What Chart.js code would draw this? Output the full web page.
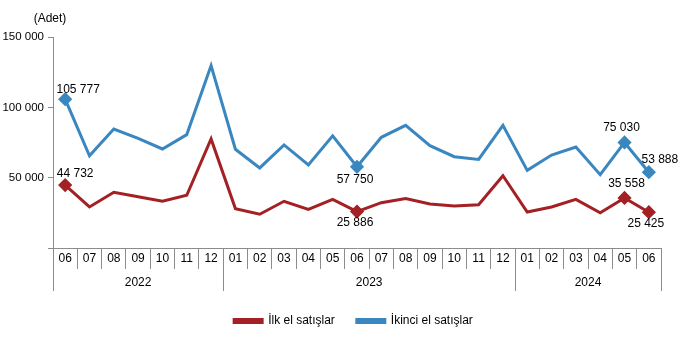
<!DOCTYPE html>
<html>
<head>
<meta charset="utf-8">
<script src="https://cdn.jsdelivr.net/npm/chart.js@4"></script>
<style>
  html, body { margin: 0; padding: 0; background: #fff; }
  #wrap { width: 681px; height: 364px; }
</style>
</head>
<body>
<div id="wrap"><canvas id="sales-chart"></canvas></div>
<script>
// Monthly house sales (Adet), 2022-06 .. 2024-06
const months = ['06','07','08','09','10','11','12',
  '01','02','03','04','05','06','07','08','09','10','11','12',
  '01','02','03','04','05','06'];
const yearLabels = ['2022', '2023', '2024'];
const yearSpans = [7, 12, 6];

const firstSales = [44732, 29200, 39600, 36500, 33200, 37500, 77500,
  28000, 24000, 33200, 27500, 34600, 25886, 32200, 35100, 31300, 29900, 30800, 51400,
  25600, 29200, 34600, 25100, 35558, 25425];
const secondSales = [105777, 65500, 84600, 78000, 70400, 80600, 129700,
  70200, 56900, 73300, 59000, 79700, 57750, 78700, 87200, 72800, 64900, 63000, 87200,
  55200, 66100, 71800, 52100, 75030, 53888];

const yTicks = [50000, 100000, 150000];
const markedPoints = [0, 12, 23, 24];

const fmt = v => String(v).replace(/\B(?=(\d{3})+(?!\d))/g, ' ');

const RED = '#a32024';
const BLUE = '#3a87c0';
const FONT = 'Liberation Sans, Arial, sans-serif';

// label offsets per dataset / marked point (dx, dy from the point)
const labelOffsets = [
  { 0: [10, -11], 12: [-2, 11], 23: [2, -14], 24: [-3, 11] },
  { 0: [13, -10], 12: [-2, 13], 23: [-3, -15], 24: [11, -13] }
];

const extrasPlugin = {
  id: 'extras',
  afterLayout(chart) {
    // legend is centred under the plot area, not the canvas
    chart.legend.left += 23;
    chart.legend.right += 23;
  },
  afterDraw(chart) {
    const ctx = chart.ctx;
    const x = chart.scales.x;
    const area = chart.chartArea;
    ctx.save();

    // year row + long dividers
    ctx.strokeStyle = '#8c8c8c';
    ctx.lineWidth = 1;
    ctx.fillStyle = '#000';
    ctx.font = '12px ' + FONT;
    ctx.textAlign = 'center';
    ctx.textBaseline = 'middle';
    const step = x.width / months.length;
    let start = 0;
    const bounds = [0];
    yearSpans.forEach((n, i) => {
      const l = x.left + start * step;
      const r = x.left + (start + n) * step;
      ctx.fillText(yearLabels[i], (l + r) / 2, area.bottom + 35);
      start += n;
      bounds.push(start);
    });
    bounds.forEach(b => {
      const px = Math.round(x.left + b * step) + 0.5;
      ctx.beginPath();
      ctx.moveTo(px, area.bottom);
      ctx.lineTo(px, area.bottom + 43);
      ctx.stroke();
    });

    // unit label
    ctx.fillText('(Adet)', area.left - 3, area.top - 18);

    // data labels on marked points
    chart.data.datasets.forEach((ds, di) => {
      const meta = chart.getDatasetMeta(di);
      markedPoints.forEach(i => {
        const pt = meta.data[i];
        const off = labelOffsets[di][i];
        ctx.fillText(fmt(ds.data[i]), pt.x + off[0], pt.y + off[1]);
      });
    });
    ctx.restore();
  }
};

const pointRadius = ctx => markedPoints.includes(ctx.dataIndex) ? 5 : 0;

new Chart(document.getElementById('sales-chart'), {
  type: 'line',
  data: {
    labels: months,
    datasets: [{
      label: 'İlk el satışlar',
      data: firstSales,
      borderColor: RED,
      backgroundColor: RED,
      borderWidth: 3,
      tension: 0,
      pointStyle: 'rectRot',
      pointRadius: pointRadius,
      pointHoverRadius: pointRadius
    }, {
      label: 'İkinci el satışlar',
      data: secondSales,
      borderColor: BLUE,
      backgroundColor: BLUE,
      borderWidth: 3,
      tension: 0,
      pointStyle: 'rectRot',
      pointRadius: pointRadius,
      pointHoverRadius: pointRadius
    }]
  },
  options: {
    responsive: true,
    maintainAspectRatio: false,
    animation: false,
    layout: { padding: { top: 37, right: 20, left: 0, bottom: 27 } },
    plugins: {
      tooltip: { enabled: false },
      legend: {
        position: 'bottom',
        labels: {
          boxWidth: 28,
          boxHeight: 3,
          padding: 22,
          color: '#000',
          font: { family: FONT, size: 12 }
        }
      }
    },
    scales: {
      x: {
        offset: true,
        afterFit: s => { s.height = 45; },
        grid: {
          offset: true,
          drawOnChartArea: false,
          drawTicks: true,
          tickLength: 21,
          color: '#8c8c8c'
        },
        border: { display: true, color: '#8c8c8c' },
        ticks: {
          padding: -18,
          color: '#000',
          maxRotation: 0,
          autoSkip: false,
          font: { family: FONT, size: 12 }
        }
      },
      y: {
        min: 0,
        max: 150000,
        afterFit: s => { s.width = 53; },
        afterBuildTicks: s => { s.ticks = [0].concat(yTicks).map(v => ({ value: v })); },
        grid: {
          drawOnChartArea: false,
          drawTicks: true,
          tickLength: 5,
          color: '#8c8c8c'
        },
        border: { display: true, color: '#8c8c8c' },
        ticks: {
          padding: 4,
          color: '#000',
          font: { family: FONT, size: 11.5 },
          callback: v => v === 0 ? '' : fmt(v)
        }
      }
    }
  },
  plugins: [extrasPlugin]
});
</script>
</body>
</html>
